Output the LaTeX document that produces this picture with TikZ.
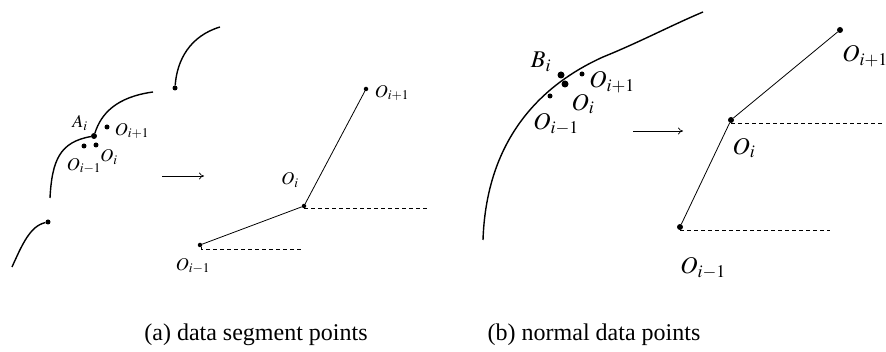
\documentclass[tikz,border=0pt]{standalone}
\usepackage{mathptmx}
\usepackage{fontspec}
\setmainfont{Liberation Serif}
\usetikzlibrary{arrows.meta}

\begin{document}
\begin{tikzpicture}[x=1pt,y=-1pt,
  datadot/.style={circle,fill=black,inner sep=0pt,minimum size=#1},
  datadot/.default=5pt,
  lbl/.style={inner sep=0pt,font=\fontsize{18}{18}\selectfont},
  biglbl/.style={inner sep=0pt,font=\fontsize{24}{24}\selectfont},
  curve/.style={line width=1.4pt},
  link/.style={line width=0.8pt},
  level/.style={line width=0.8pt,dash pattern=on 4pt off 3pt},
  step arrow/.style={-{To[length=5pt,width=7pt]},line width=0.7pt}]
  \useasboundingbox (0,0) rectangle (886,352);

  % (a) data segment points
  \node[datadot] (s1) at (48,222) {};
  \node[datadot] (s2) at (175,88) {};
  \node[datadot=6pt] (ai) at (94,136) {};
  \node[datadot] (ap) at (107,127) {};
  \node[datadot] (am) at (84,146) {};
  \node[datadot] (a0) at (96,145) {};
  \coordinate (s1b) at (12,267);
  \coordinate (s2b) at (50,198);
  \coordinate (s2e) at (153,92);
  \coordinate (s3e) at (220,27);
  \draw[curve] (s1b) .. controls (22,245) and (30,226) .. (s1);
  \draw[curve] (s2b) .. controls (52,160) and (60,142) .. (ai);
  \draw[curve] (ai) .. controls (101,114) and (116,97) .. (s2e);
  \draw[curve] (s2) .. controls (177,60) and (190,36) .. (s3e);
  \node[lbl] at (80,123) {$A_i$};
  \node[lbl] at (132,131) {$O_{i+1}$};
  \node[lbl] at (84,166) {$O_{i-1}$};
  \node[lbl] at (109,157) {$O_i$};

  \coordinate (aa) at (162,176);
  \coordinate (ab) at (204,176);
  \draw[step arrow] (aa) -- (ab);

  \node[datadot=4.5pt] (pm) at (200,245) {};
  \node[datadot=4.5pt] (p0) at (304,206) {};
  \node[datadot=4.5pt] (pp) at (366,89) {};
  \coordinate (p0e) at (427,206);
  \coordinate (pme) at (304,249);
  \draw[link] (pm) -- (p0) -- (pp);
  \draw[level] (p0.south) -- (p0.south -| p0e);
  \draw[level] (pm.south east) -- (pm.south east |- pme) -- (pme);
  \node[lbl] at (392,93) {$O_{i+1}$};
  \node[lbl] at (290,180) {$O_i$};
  \node[lbl] at (193,266) {$O_{i-1}$};

  % (b) normal data points
  \node[datadot=7pt] (bi) at (561,75) {};
  \node[datadot=7pt] (b0) at (565,84) {};
  \node[datadot] (bp) at (582,74) {};
  \node[datadot] (bm) at (550,96) {};
  \coordinate (cb) at (483,240);
  \coordinate (cm) at (603,57);
  \coordinate (ce) at (703,12);
  \draw[curve] (cb) .. controls (486,150) and (530,90) .. (cm)
    .. controls (640,42) and (672,25) .. (ce);
  \node[biglbl] at (541,62) {$B_i$};
  \node[biglbl] at (612,82) {$O_{i+1}$};
  \node[biglbl] at (583,104) {$O_i$};
  \node[biglbl] at (556,124) {$O_{i-1}$};

  \coordinate (ba) at (633,131);
  \coordinate (bb) at (683,131);
  \draw[step arrow] (ba) -- (bb);

  \node[datadot=6pt] (qm) at (680,227) {};
  \node[datadot=6pt] (q0) at (731,120) {};
  \node[datadot=6pt] (qp) at (840,30) {};
  \coordinate (q0e) at (883,123);
  \coordinate (qme) at (830,231);
  \draw[link] (qm) -- (q0) -- (qp);
  \draw[level] (q0.south) -- (q0.south -| q0e);
  \draw[level] (qm.south) -- (qm.south -| qme);
  \node[biglbl] at (865,56) {$O_{i+1}$};
  \node[biglbl] at (744,148) {$O_i$};
  \node[biglbl] at (703,268) {$O_{i-1}$};

  \node[font=\fontsize{24}{24}\selectfont,inner sep=0pt] (capa) at (256,335) {(a) data segment points};
  \node[font=\fontsize{24}{24}\selectfont,inner sep=0pt] (capb) at (594,335) {(b) normal data points};
\end{tikzpicture}
\end{document}
